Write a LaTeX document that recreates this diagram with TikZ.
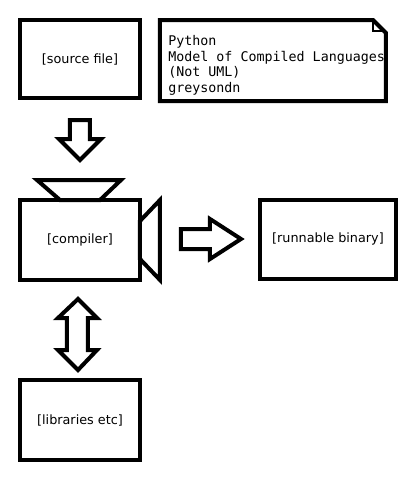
\documentclass[tikz,border=0pt]{standalone}
\usepackage{fontspec}
\setmainfont{DejaVu Sans}
\setmonofont{DejaVu Sans Mono}
\begin{document}
\begin{tikzpicture}[x=0.75pt,y=-0.75pt,
  box/.style={draw,line width=3pt,minimum width=0pt},
  blk/.style={draw,line width=3pt,line join=miter,fill=white},
  lbl/.style={font=\fontsize{9.6}{11}\selectfont},
  thin/.style={line width=0.8pt}]
\useasboundingbox (0,0) rectangle (420,480);
% boxes
\draw[box] (20,20) rectangle (140,98);
\node[lbl] (src) at (80,59) {[source file]};
% note
\draw[box,line join=miter] (160,20) -- (373,20) -- (386,33) -- (386,101) -- (160,101) -- cycle;
\draw[thin] (373,20) -- (373,31) -- (386,31);
\node[anchor=north west,align=left,font=\ttfamily\fontsize{10}{11.8}\selectfont,inner sep=0pt] (note) at (168,35)
  {Python\\Model of Compiled Languages\\(Not UML)\\greysondn};
% down arrow
\draw[blk] (70,120) -- (90,120) -- (90,139) -- (101,139) -- (80,160) -- (59,139) -- (70,139) -- cycle;
% compiler
\draw[blk] (37,180) -- (121,180) -- (100,200) -- (60,200) -- cycle;
\draw[blk] (140,221) -- (160,200) -- (160,280) -- (140,259) -- cycle;
\draw[box] (20,200) rectangle (140,280);
\node[lbl] (comp) at (80,240) {[compiler]};
% right arrow
\draw[blk] (181,229) -- (210,229) -- (210,219) -- (241,239) -- (210,259) -- (210,249) -- (181,249) -- cycle;
% binary
\draw[box] (260,200) rectangle (396,279);
\node[lbl] (bin) at (328,239) {[runnable binary]};
% double arrow
\draw[blk] (78,299) -- (97,318) -- (88,318) -- (88,350) -- (97,350) -- (78,370) -- (58,350) -- (67,350) -- (67,318) -- (58,318) -- cycle;
% libraries
\draw[box] (20,380) rectangle (140,460);
\node[lbl] (lib) at (80,420) {[libraries etc]};
\end{tikzpicture}
\end{document}
